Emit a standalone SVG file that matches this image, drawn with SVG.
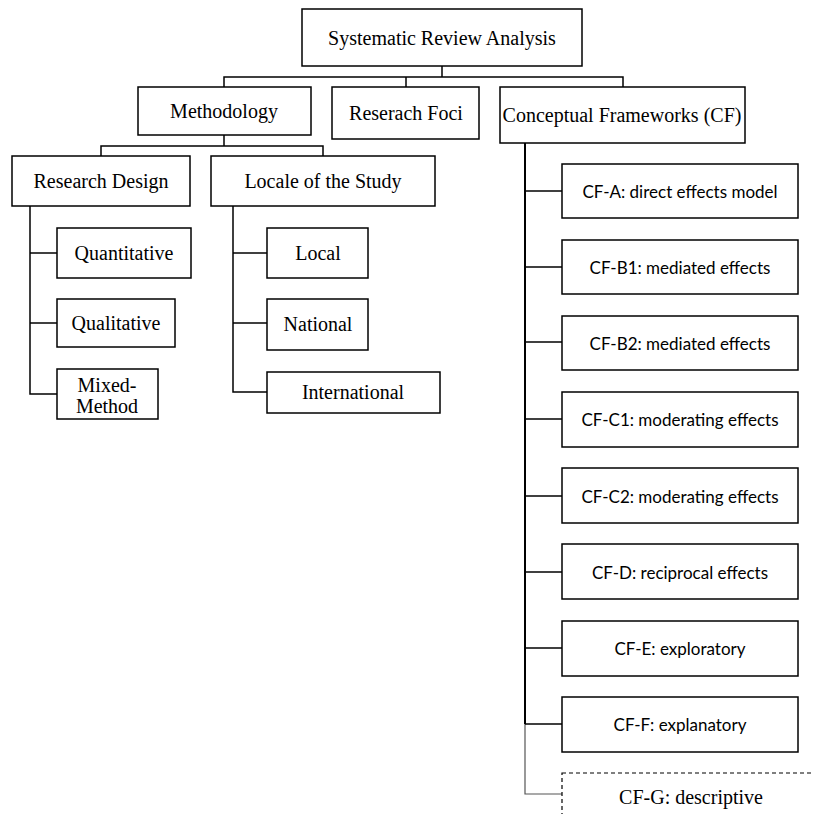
<svg xmlns="http://www.w3.org/2000/svg" width="814" height="814" viewBox="0 0 814 814">
<style>
.box{fill:#fff;stroke:#000;stroke-width:1.5}
.dash{fill:#fff;stroke:#000;stroke-width:1.2;stroke-dasharray:4 3}
.ln{fill:none;stroke:#000;stroke-width:1.5}
.thick{fill:none;stroke:#000;stroke-width:2}
.thin{fill:none;stroke:#555;stroke-width:1.2}
.s{font-family:"Liberation Serif","DejaVu Serif",serif;font-size:20px;fill:#000;text-anchor:middle;dominant-baseline:central}
.c{font-family:Lato,"Open Sans",sans-serif;font-size:17px;fill:#000;text-anchor:middle;dominant-baseline:central}
</style>
<rect width="814" height="814" fill="#fff"/>
<g id="connectors">
<polyline class="ln" points="442,66 442,77"/>
<polyline class="ln" points="224,87 224,77 623,77 623,87"/>
<polyline class="ln" points="406,77 406,87"/>
<polyline class="ln" points="224,135 224,146"/>
<polyline class="ln" points="101,156 101,146 323,146 323,156"/>
<polyline class="ln" points="30,206 30,394 57,394"/>
<polyline class="ln" points="30,253 57,253"/>
<polyline class="ln" points="30,323 57,323"/>
<polyline class="ln" points="233,206 233,392 267,392"/>
<polyline class="ln" points="233,253 267,253"/>
<polyline class="ln" points="233,323 267,323"/>
<polyline class="thick" points="525,143 525,724"/>
<polyline class="thin" points="525,724 525,794 562,794"/>
<polyline class="ln" points="525,191 562,191"/>
<polyline class="ln" points="525,267 562,267"/>
<polyline class="ln" points="525,342 562,342"/>
<polyline class="ln" points="525,419 562,419"/>
<polyline class="ln" points="525,496 562,496"/>
<polyline class="ln" points="525,572 562,572"/>
<polyline class="ln" points="525,648 562,648"/>
<polyline class="ln" points="525,724 562,724"/>
</g>
<g id="n-root"><rect class="box" x="302" y="9" width="280" height="57"/><text class="s" x="442" y="38">Systematic Review Analysis</text></g>
<g id="n-methodology"><rect class="box" x="138" y="87" width="173" height="48"/><text class="s" x="224" y="111">Methodology</text></g>
<g id="n-foci"><rect class="box" x="332" y="87" width="147" height="52"/><text class="s" x="406" y="113">Reserach Foci</text></g>
<g id="n-cf"><rect class="box" x="500" y="87" width="245" height="56"/><text class="s" x="622" y="115">Conceptual Frameworks (CF)</text></g>
<g id="n-design"><rect class="box" x="12" y="156" width="178" height="50"/><text class="s" x="101" y="181">Research Design</text></g>
<g id="n-locale"><rect class="box" x="211" y="156" width="224" height="50"/><text class="s" x="323" y="181">Locale of the Study</text></g>
<g id="n-quant"><rect class="box" x="57" y="228" width="134" height="50"/><text class="s" x="124" y="253">Quantitative</text></g>
<g id="n-qual"><rect class="box" x="57" y="299" width="118" height="48"/><text class="s" x="116" y="323">Qualitative</text></g>
<g id="n-mixed"><rect class="box" x="57" y="369" width="101" height="50"/><text class="s" x="107" y="385">Mixed-</text><text class="s" x="107" y="406">Method</text></g>
<g id="n-local"><rect class="box" x="267" y="228" width="101" height="50"/><text class="s" x="318" y="253">Local</text></g>
<g id="n-national"><rect class="box" x="267" y="299" width="101" height="51"/><text class="s" x="318" y="324">National</text></g>
<g id="n-intl"><rect class="box" x="267" y="372" width="173" height="41"/><text class="s" x="353" y="392">International</text></g>
<g id="n-cfa"><rect class="box" x="562" y="164" width="236" height="54"/><text class="c" x="680" y="191">CF-A: direct effects model</text></g>
<g id="n-cfb1"><rect class="box" x="562" y="240" width="236" height="54"/><text class="c" x="680" y="267">CF-B1: mediated effects</text></g>
<g id="n-cfb2"><rect class="box" x="562" y="316" width="236" height="54"/><text class="c" x="680" y="343">CF-B2: mediated effects</text></g>
<g id="n-cfc1"><rect class="box" x="562" y="392" width="236" height="55"/><text class="c" x="680" y="419">CF-C1: moderating effects</text></g>
<g id="n-cfc2"><rect class="box" x="562" y="468" width="236" height="55"/><text class="c" x="680" y="496">CF-C2: moderating effects</text></g>
<g id="n-cfd"><rect class="box" x="562" y="544" width="236" height="55"/><text class="c" x="680" y="572">CF-D: reciprocal effects</text></g>
<g id="n-cfe"><rect class="box" x="562" y="621" width="236" height="55"/><text class="c" x="680" y="648">CF-E: exploratory</text></g>
<g id="n-cff"><rect class="box" x="562" y="697" width="236" height="55"/><text class="c" x="680" y="724">CF-F: explanatory</text></g>
<g id="n-cfg"><rect class="dash" x="562" y="773" width="270" height="60"/><text class="s" x="691" y="797">CF-G: descriptive</text></g>
</svg>
